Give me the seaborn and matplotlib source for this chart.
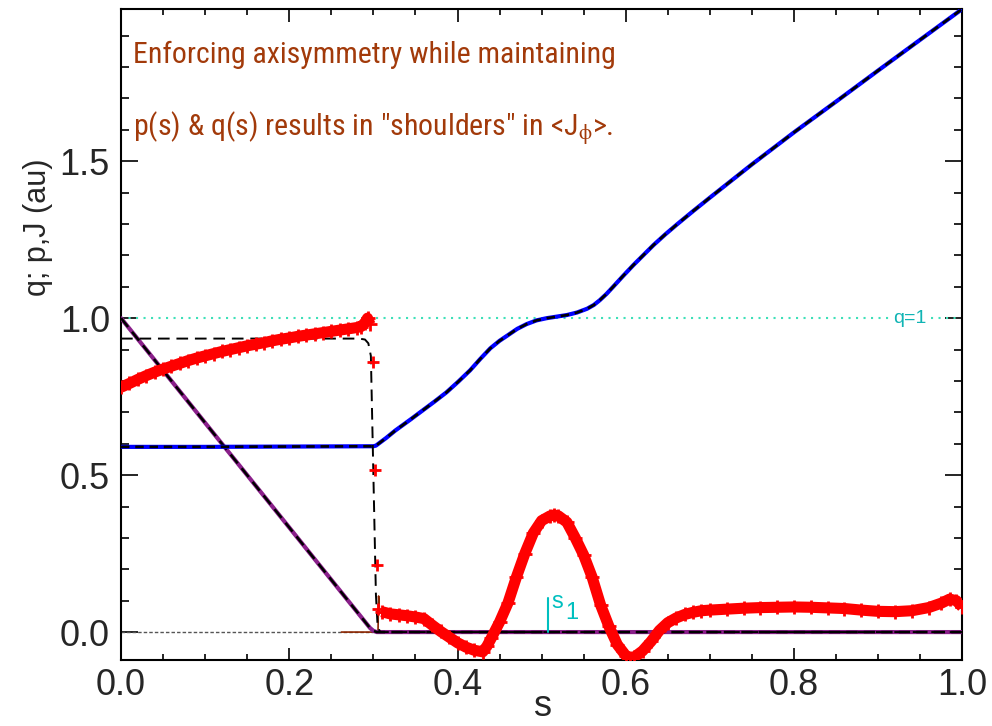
import matplotlib
matplotlib.use("Agg")
import matplotlib.pyplot as plt
import seaborn as sns
import pandas as pd
from matplotlib.ticker import MultipleLocator, FormatStrFormatter

# ---------------- data ----------------
q_s = [0.0, 0.10, 0.20, 0.300, 0.303, 0.315, 0.326, 0.344, 0.359, 0.373, 0.387,
       0.401, 0.415, 0.427, 0.439, 0.450, 0.460, 0.471, 0.482, 0.494, 0.506,
       0.518, 0.530, 0.542, 0.554, 0.562, 0.569, 0.577, 0.585, 0.597, 0.609,
       0.621, 0.633, 0.647, 0.661, 0.680, 0.700, 0.725, 0.750, 0.800, 0.850,
       0.900, 0.950, 1.0]
q_val = [0.590, 0.590, 0.591, 0.592, 0.594, 0.618, 0.642, 0.677, 0.707, 0.735,
         0.764, 0.798, 0.834, 0.870, 0.904, 0.928, 0.946, 0.966, 0.981, 0.993,
         1.000, 1.005, 1.010, 1.018, 1.030, 1.042, 1.057, 1.077, 1.100, 1.135,
         1.169, 1.201, 1.233, 1.267, 1.299, 1.341, 1.384, 1.437, 1.490, 1.592,
         1.690, 1.789, 1.887, 1.985]

p_s = [0.0, 0.296, 0.300, 0.304, 1.0]
p_val = [1.0, 0.013, 0.004, 0.0, 0.0]

jt_s = [0.0, 0.283, 0.290, 0.294, 0.297, 0.300, 0.303, 0.305, 0.308, 1.0]
jt_val = [0.935, 0.935, 0.932, 0.920, 0.880, 0.500, 0.120, 0.020, 0.0, 0.0]

j_s = [0.00, 0.01, 0.02, 0.03, 0.04, 0.05, 0.06, 0.07, 0.08, 0.09, 0.10, 0.11,
       0.12, 0.13, 0.14, 0.15, 0.16, 0.17, 0.18, 0.19, 0.20, 0.21, 0.22, 0.23,
       0.24, 0.25, 0.26, 0.27, 0.28, 0.285, 0.29, 0.293, 0.296]
j_val = [0.780, 0.792, 0.805, 0.817, 0.828, 0.838, 0.847, 0.856, 0.865, 0.873,
         0.880, 0.887, 0.894, 0.900, 0.906, 0.912, 0.917, 0.922, 0.928, 0.933,
         0.937, 0.942, 0.946, 0.950, 0.954, 0.958, 0.962, 0.966, 0.970, 0.973,
         0.985, 1.000, 0.980]

jdrop_s = [0.299, 0.302, 0.304, 0.306]
jdrop_val = [0.86, 0.515, 0.213, 0.075]

j2_s = [0.31, 0.32, 0.33, 0.34, 0.35, 0.36, 0.37, 0.38, 0.39, 0.40, 0.41, 0.42,
        0.43, 0.435, 0.44, 0.45, 0.46, 0.47, 0.48, 0.49, 0.50, 0.51, 0.515,
        0.52, 0.53, 0.54, 0.55, 0.56, 0.57, 0.58, 0.59, 0.60, 0.605, 0.61,
        0.62, 0.63, 0.64, 0.65, 0.66, 0.67, 0.68, 0.69, 0.70, 0.72, 0.74,
        0.76, 0.78, 0.80, 0.82, 0.84, 0.86, 0.88, 0.90, 0.92, 0.94, 0.96,
        0.975, 0.985, 0.993, 1.0]
j2_val = [0.065, 0.058, 0.055, 0.052, 0.048, 0.043, 0.022, 0.002, -0.016,
          -0.034, -0.048, -0.058, -0.063, -0.045, -0.020, 0.032, 0.093, 0.175,
          0.250, 0.315, 0.355, 0.370, 0.373, 0.370, 0.350, 0.300, 0.245, 0.175,
          0.087, 0.018, -0.040, -0.075, -0.083, -0.080, -0.060, -0.030, 0.005,
          0.030, 0.045, 0.056, 0.063, 0.068, 0.070, 0.073, 0.076, 0.078, 0.079,
          0.080, 0.079, 0.077, 0.075, 0.070, 0.066, 0.065, 0.068, 0.078, 0.092,
          0.105, 0.100, 0.080]

zero_s = [0.0, 0.300]
zero_val = [0.0, 0.0]
brown_s = [0.262, 0.3055, 0.3062, 0.3075]
brown_val = [0.0, 0.0, 0.115, 0.06]

q_ref = 1.0
s1_pos = 0.507
s1_height = 0.11

xticks = [0.0, 0.2, 0.4, 0.6, 0.8, 1.0]
yticks = [0.0, 0.5, 1.0, 1.5]

# ---------------- style ----------------
sns.set_style("white")
plt.rcParams["font.family"] = ["Liberation Sans", "DejaVu Sans"]
plt.rcParams["mathtext.fontset"] = "custom"
plt.rcParams["mathtext.rm"] = "Roboto Condensed"
plt.rcParams["mathtext.it"] = "Roboto Condensed"

fig = plt.figure(figsize=(9.92, 7.26), dpi=100)
ax = fig.add_axes([0.122, 0.0909, 0.848, 0.8967])

dq = pd.DataFrame({"s": q_s, "q": q_val})
dp = pd.DataFrame({"s": p_s, "p": p_val})
dj = pd.DataFrame({"s": j_s + j2_s, "J": j_val + j2_val})

# q = 1 reference
ax.axhline(q_ref, color="#3EE0B8", lw=1.5, ls=(0, (1, 2.6)), zorder=1)

# zero line left part
ax.plot(zero_s, zero_val, color="#555555", lw=1.0, dashes=(2.5, 1.5), zorder=2)
ax.plot(brown_s, brown_val, color="#8B2500", lw=1.2, zorder=2)

# pressure
sns.lineplot(data=dp, x="s", y="p", color="#8A1F8A", lw=3.0, sort=False,
             estimator=None, ax=ax, zorder=3)
ax.plot(p_s, p_val, color="black", lw=1.8, dashes=(4.5, 2.5), zorder=3.1)

# q profile
sns.lineplot(data=dq, x="s", y="q", color="#0000FF", lw=3.0, sort=False,
             estimator=None, ax=ax, zorder=4)
ax.plot(q_s, q_val, color="black", lw=1.9, dashes=(3.2, 2.2), zorder=4.1)

# target J (thin dashed)
ax.plot(jt_s, jt_val, color="black", lw=1.4, dashes=(6, 3.5), zorder=5)

# red J markers
ax.plot(j_s, j_val, color="#FF0000", lw=8, solid_capstyle="butt", zorder=6)
ax.plot(j2_s, j2_val, color="#FF0000", lw=8, solid_capstyle="butt", zorder=6)
sns.scatterplot(data=dj, x="s", y="J", marker="+", s=110, color="#FF0000",
                linewidth=2, ax=ax, zorder=7)
ax.plot(jdrop_s, jdrop_val, ls="none", marker="+", ms=9, mew=2,
        color="#FF0000", zorder=7)

# s1 marker
ax.plot([s1_pos, s1_pos], [0.0, s1_height], color="#00BFBF", lw=1.5, zorder=8)
ax.text(s1_pos + 0.004, 0.095, "s", color="#00BFBF", fontsize=17,
        ha="left", va="center", zorder=8)
ax.text(s1_pos + 0.021, 0.06, "1", color="#00BFBF", fontsize=17,
        ha="left", va="center", zorder=8)

# q=1 label
ax.text(0.938, q_ref, "q=1", color="#10B4B4", fontsize=14, ha="center",
        va="center", zorder=8,
        bbox=dict(facecolor="white", edgecolor="none", pad=0.5))

# annotation
tcol = "#A23A0A"
afont = ["Roboto Condensed", "Liberation Sans"]
ax.text(0.0143, 0.917, "Enforcing axisymmetry while maintaining",
        transform=ax.transAxes, color=tcol, fontsize=21.5, va="baseline",
        family=afont)
ax.text(0.0143, 0.806,
        'p(s) & q(s) results in "shoulders" in <J$_{\\mathregular{\\phi}}$>.',
        transform=ax.transAxes, color=tcol, fontsize=21.5, va="baseline",
        family=afont)

# axes
ax.set_xlim(0, 1)
ax.set_ylim(-0.089, 1.985)
ax.set_xticks(xticks)
ax.set_yticks(yticks)
ax.xaxis.set_major_formatter(FormatStrFormatter("%.1f"))
ax.yaxis.set_major_formatter(FormatStrFormatter("%.1f"))
ax.xaxis.set_minor_locator(MultipleLocator(0.05))
ax.yaxis.set_minor_locator(MultipleLocator(0.1))
ax.tick_params(axis="x", which="major", direction="in", length=9, width=1.2,
               top=True, bottom=True, labelsize=26, pad=6, color="black")
ax.tick_params(axis="x", which="minor", direction="in", length=4, width=1.2,
               top=True, bottom=True, color="black")
ax.tick_params(axis="y", which="major", direction="in", length=12.5, width=1.2,
               left=True, right=True, labelsize=26, pad=8, color="black")
ax.tick_params(axis="y", which="minor", direction="in", length=6, width=1.2,
               left=True, right=True, color="black")
for sp in ax.spines.values():
    sp.set_linewidth(1.5)
    sp.set_color("black")
    sp.set_visible(True)

ax.set_xlabel("s", fontsize=26)
ax.xaxis.set_label_coords(0.502, -0.045)
ax.set_ylabel("q; p,J (au)", fontsize=22, va="center")
ax.yaxis.set_label_coords(-0.099, 0.664)

fig.savefig("out.png", dpi=100)
